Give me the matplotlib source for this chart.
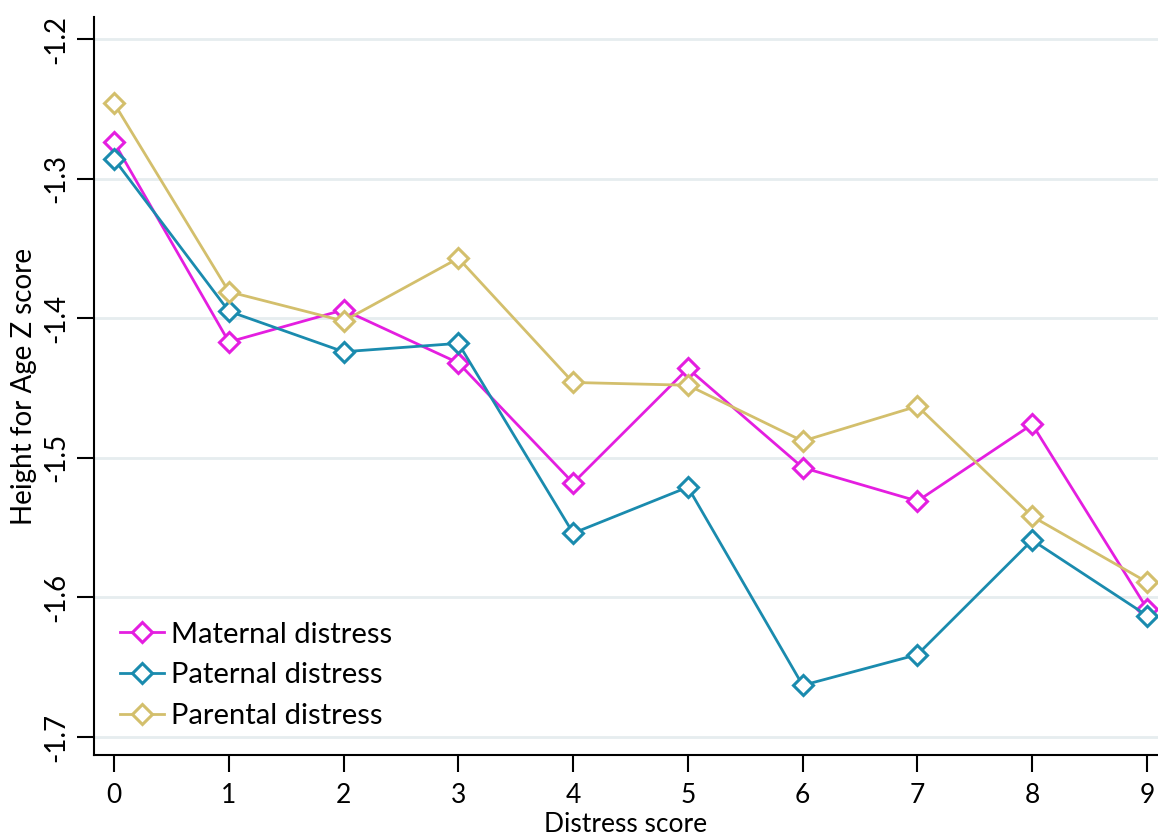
import numpy as np
import matplotlib.pyplot as plt

# distress score categories
scores = [0, 1, 2, 3, 4, 5, 6, 7, 8, 9]

# mean height-for-age z score by distress score
maternal = [-1.274, -1.417, -1.394, -1.432, -1.518, -1.436, -1.507, -1.531, -1.476, -1.608]
paternal = [-1.286, -1.395, -1.424, -1.418, -1.554, -1.521, -1.663, -1.641, -1.559, -1.613]
parental = [-1.246, -1.381, -1.402, -1.357, -1.446, -1.448, -1.488, -1.463, -1.542, -1.589]

yticks = [-1.2, -1.3, -1.4, -1.5, -1.6, -1.7]
ytick_labels = ['-1.2', '-1.3', '-1.4', '-1.5', '-1.6', '-1.7']

plt.rcParams['font.family'] = ['Lato', 'DejaVu Sans']

fig = plt.figure(figsize=(11.58, 8.39), dpi=100)
ax = fig.add_axes([0.0812, 0.100, 0.9188, 0.880])

series = [
    (maternal, '#E41EE0', 'Maternal distress'),
    (paternal, '#1A8BAE', 'Paternal distress'),
    (parental, '#D3BF6C', 'Parental distress'),
]
for vals, col, lab in series:
    ax.plot(scores, vals, '-', color=col, lw=2.0, marker='D', ms=10.5,
            mfc='white', mec=col, mew=2.2, label=lab, clip_on=False, zorder=3)

ax.set_xlim(-0.175, 9.096)
ax.set_ylim(-1.713, -1.184)
ax.set_xticks(scores)
ax.set_yticks(yticks)
ax.set_yticklabels(ytick_labels, rotation=90, va='center')
ax.tick_params(axis='both', labelsize=20, length=12, width=1.5, direction='out')
ax.tick_params(axis='x', labelsize=19, pad=8)
ax.tick_params(axis='y', pad=6)
ax.grid(axis='y', color='#E6EDEF', lw=2)
ax.set_axisbelow(True)

for s in ['top', 'right']:
    ax.spines[s].set_visible(False)
for s in ['left', 'bottom']:
    ax.spines[s].set_linewidth(1.5)

ax.set_xlabel('Distress score', fontsize=19, labelpad=3)
ax.set_ylabel('Height for Age Z score', fontsize=20, labelpad=4)

ax.legend(loc='lower left', bbox_to_anchor=(0.0, 0.0), frameon=False,
          fontsize=21, handlelength=1.5, handletextpad=0.25, labelspacing=0.5,
          borderaxespad=0.5)

fig.savefig('out.png', dpi=100)
